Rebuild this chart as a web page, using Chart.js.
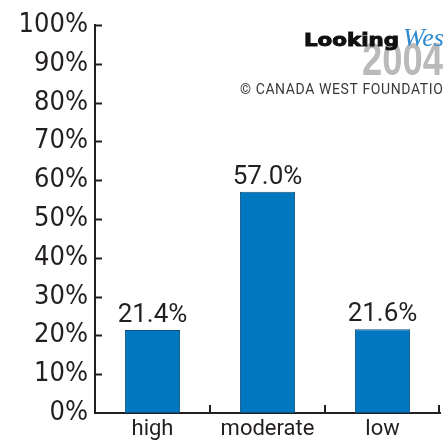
<!DOCTYPE html>
<html>
<head>
<meta charset="utf-8">
<script src="https://cdn.jsdelivr.net/npm/chart.js@4.4.0/dist/chart.umd.min.js"></script>
<style>
  html, body { margin: 0; padding: 0; background: #ffffff; }
  #wrap { width: 443px; height: 444px; position: relative; }
</style>
</head>
<body>
<div id="wrap"><canvas id="chart"></canvas></div>
<script>
// chart data
const categories = ['high', 'moderate', 'low'];
const shares = [21.4, 57.0, 21.6];
const yMin = 0;
const yMax = 100;
const yStep = 10;

const inkColor = '#231f20';
const barColor = '#0077bf';

// tick marks pointing into the plot, like the original print chart
const innerTicks = {
    id: 'innerTicks',
    afterDatasetsDraw(chart)
    {
        let ctx = chart.ctx;
        let area = chart.chartArea;
        let yScale = chart.scales.y;
        let xScale = chart.scales.x;
        ctx.save();
        ctx.strokeStyle = inkColor;
        ctx.lineWidth = 2;
        yScale.ticks.forEach(function (t, i)
        {
            if (t.value === yMin) return;
            let y = Math.round(yScale.getPixelForTick(i)) + 0.5;
            ctx.beginPath();
            ctx.moveTo(area.left, y);
            ctx.lineTo(area.left + 7, y);
            ctx.stroke();
        });
        for (let i = 0; i < categories.length; i++)
        {
            let x;
            if (i < categories.length - 1) x = (xScale.getPixelForTick(i) + xScale.getPixelForTick(i + 1)) / 2;
            else x = area.right - 1;
            ctx.beginPath();
            ctx.moveTo(x, area.bottom);
            ctx.lineTo(x, area.bottom - 8);
            ctx.stroke();
        }
        ctx.restore();
    }
};

// value labels above the bars
const valueLabels = {
    id: 'valueLabels',
    afterDatasetsDraw(chart)
    {
        let ctx = chart.ctx;
        let meta = chart.getDatasetMeta(0);
        ctx.save();
        ctx.font = '26px Roboto';
        ctx.fillStyle = inkColor;
        ctx.textAlign = 'center';
        ctx.textBaseline = 'alphabetic';
        meta.data.forEach(function (bar, i)
        {
            ctx.fillText(shares[i].toFixed(1) + '%', bar.x, bar.y - 8);
        });
        ctx.restore();
    }
};

// publisher mark in the top right corner
const logo = {
    id: 'logo',
    afterDraw(chart)
    {
        let ctx = chart.ctx;
        ctx.save();
        ctx.textBaseline = 'alphabetic';
        ctx.textAlign = 'left';

        ctx.save();
        ctx.fillStyle = '#bababa';
        ctx.font = 'bold 46px "Liberation Sans"';
        ctx.translate(362, 75);
        ctx.scale(0.79, 1);
        ctx.fillText('2004', 0, 0);
        ctx.restore();

        ctx.save();
        ctx.fillStyle = '#111111';
        ctx.strokeStyle = '#111111';
        ctx.lineWidth = 1;
        ctx.font = 'bold 18px "DejaVu Sans"';
        let w = ctx.measureText('Looking').width;
        ctx.translate(304, 46);
        ctx.scale(95 / w, 1);
        ctx.fillText('Looking', 0, 0);
        ctx.strokeText('Looking', 0, 0);
        ctx.restore();

        ctx.fillStyle = '#2f8ad0';
        ctx.font = 'italic 26px "Liberation Serif"';
        ctx.fillText('West', 403, 46);

        ctx.fillStyle = '#3a3a3a';
        ctx.font = '14px Roboto';
        ctx.letterSpacing = '0.6px';
        ctx.fillText('\u00a9 CANADA WEST FOUNDATION', 240, 94);
        ctx.restore();
    }
};

let chartElement = document.getElementById('chart').getContext('2d');

let barChart = new Chart(chartElement,
    {
        type: 'bar',
        data:
            {
                labels: categories,
                datasets:
                    [
                        {
                            label: 'share',
                            data: shares,
                            backgroundColor: barColor,
                            borderColor: '#0b4f7e',
                            borderWidth: 1,
                            borderSkipped: false,
                            barPercentage: 0.48,
                            categoryPercentage: 1
                        }
                    ]
            },
        options:
            {
                responsive: true,
                maintainAspectRatio: false,
                animation: false,
                layout: { padding: { top: 25, right: 3, left: 0, bottom: 0 } },
                plugins:
                    {
                        legend: { display: false },
                        tooltip: { enabled: false }
                    },
                scales:
                    {
                        x:
                            {
                                grid: { display: false, drawTicks: false },
                                border: { display: true, color: inkColor, width: 2 },
                                ticks: { color: inkColor, font: { family: 'Roboto', size: 22 }, padding: 3 },
                                afterFit: function (scale) { scale.height = 31; }
                            },
                        y:
                            {
                                min: yMin,
                                max: yMax,
                                grid: { display: false, drawTicks: false },
                                border: { display: true, color: inkColor, width: 2 },
                                ticks:
                                    {
                                        stepSize: yStep,
                                        color: inkColor,
                                        font: { family: '"DejaVu Sans Condensed", "DejaVu Sans"', size: 27 },
                                        padding: 7,
                                        callback: function (v) { return v + '%'; }
                                    },
                                afterFit: function (scale) { scale.width = 95; }
                            }
                    }
            },
        plugins: [innerTicks, valueLabels, logo]
    });
</script>
</body>
</html>
